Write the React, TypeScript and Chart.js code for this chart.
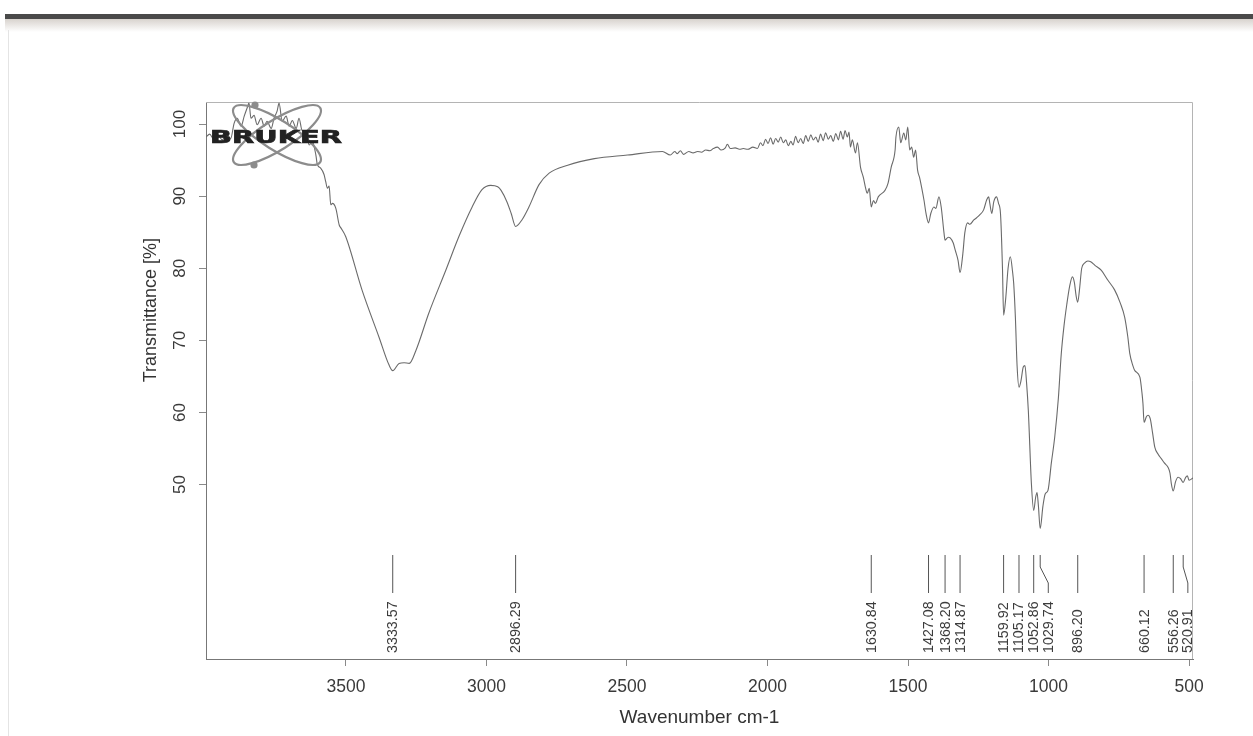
import { useEffect, useRef } from "react";
import { Chart, registerables } from "chart.js";

Chart.register(...registerables);

// IR spectrum (ATR), wavenumber in cm-1, descending order
const wavenumbers: number[] = [
  3998, 3985, 3970, 3955, 3940, 3925, 3910, 3898, 3887, 3873, 3862, 3852, 3845, 3838, 3827, 3816,
  3802, 3791, 3781, 3766, 3756, 3745, 3738, 3727, 3713, 3702, 3691, 3677, 3667, 3656, 3642, 3631,
  3620, 3607, 3602, 3590, 3578, 3572, 3566, 3560, 3554, 3548, 3536, 3524, 3518, 3501, 3443, 3382,
  3347, 3333.57, 3311, 3293, 3275, 3251, 3205, 3144, 3097, 3051, 3016, 2985, 2960, 2948, 2927, 2912,
  2896.29, 2874, 2849, 2813, 2777, 2711, 2616, 2498, 2374, 2346, 2330, 2321, 2310, 2299, 2280, 2265,
  2249, 2235, 2220, 2205, 2193, 2178, 2165, 2150, 2143, 2132, 2115, 2100, 2086, 2070, 2052, 2036,
  2025, 2016, 2007, 1998, 1989, 1980, 1971, 1962, 1953, 1944, 1935, 1926, 1917, 1909, 1900, 1891,
  1882, 1873, 1864, 1855, 1846, 1837, 1828, 1820, 1811, 1802, 1793, 1784, 1775, 1766, 1757, 1748,
  1740, 1731, 1724, 1716, 1710, 1705, 1698, 1687, 1680, 1669, 1659, 1652, 1645, 1638, 1630.84, 1623,
  1616, 1606, 1582, 1571, 1560, 1546, 1543, 1533, 1526, 1515, 1508, 1501, 1494, 1487, 1480, 1473,
  1466, 1459, 1452, 1443, 1436, 1427.08, 1419, 1408, 1401, 1390, 1382, 1372, 1368.2, 1357, 1350, 1339,
  1332, 1322, 1314.87, 1305, 1298, 1288, 1280, 1266, 1256, 1245, 1231, 1220, 1213, 1209, 1202, 1195,
  1185, 1178, 1171, 1164, 1159.92, 1152, 1144, 1136, 1128, 1124, 1118, 1112, 1105.17, 1098, 1090, 1084,
  1078, 1072, 1061, 1052.86, 1046, 1041, 1036, 1029.74, 1020, 1012, 1002, 990, 978, 965, 955, 945,
  935, 925, 915, 908, 902, 896.2, 890, 882, 872, 860, 850, 835, 812, 790, 765, 745,
  729, 718, 711, 700, 693, 675, 667, 664, 660.12, 652, 646, 638, 630, 622, 610, 599,
  588, 575, 568, 563, 556.26, 548, 539, 530, 520.91, 512, 506, 500, 486,
];

// Transmittance in %
const transmittance: number[] = [
  98.2, 98.6, 97.9, 98.5, 97.8, 98.7, 98.0, 100.1, 100.8, 99.7, 101.1, 102.2, 102.9, 100.8, 101.2, 99.9,
  100.8, 99.7, 100.4, 99.4, 100.8, 101.8, 102.9, 100.4, 101.1, 99.7, 100.5, 99.4, 100.8, 99.1, 99.0, 97.1,
  97.6, 95.7, 94.4, 93.9, 93.0, 92.0, 91.1, 91.4, 88.8, 89.0, 88.3, 86.0, 85.6, 84.4, 77.0, 70.4,
  66.6, 65.8, 66.8, 66.9, 66.8, 68.6, 73.8, 79.8, 84.5, 88.5, 90.9, 91.5, 91.3, 90.8, 89.2, 87.6,
  85.8, 86.7, 88.5, 91.6, 93.2, 94.3, 95.2, 95.7, 96.2, 95.7, 96.2, 95.9, 96.3, 95.8, 96.2, 96.0,
  96.2, 96.1, 96.4, 96.3, 96.6, 96.8, 96.4, 96.7, 97.2, 96.6, 96.7, 96.5, 96.6, 96.5, 96.8, 96.6,
  97.4, 97.0, 97.9, 97.3, 98.1, 97.2, 98.0, 97.5, 98.2, 97.4, 97.8, 97.0, 97.6, 97.1, 98.3, 97.4,
  98.0, 97.3, 98.4, 97.6, 98.5, 97.8, 98.2, 97.5, 98.6, 97.7, 98.8, 97.9, 98.4, 97.6, 98.7, 97.8,
  99.0, 97.9, 99.1, 98.2, 98.9, 96.8, 97.8, 96.0, 97.4, 94.0, 92.6, 91.3, 90.4, 91.1, 88.5, 89.4,
  89.0, 89.9, 90.8, 91.8, 94.0, 96.4, 98.2, 99.6, 97.4, 98.75, 97.8, 99.6, 96.4, 96.8, 95.4, 96.4,
  93.6, 92.6, 91.3, 89.4, 87.6, 86.3, 87.6, 88.5, 88.3, 89.9, 88.5, 84.9, 83.9, 84.3, 84.2, 83.5,
  82.5, 81.1, 79.4, 82.0, 84.9, 86.3, 86.1, 86.7, 87.0, 87.4, 88.1, 89.5, 89.9, 89.0, 87.6, 89.2,
  89.9, 89.0, 87.6, 80.1, 73.5, 76.0, 80.0, 81.6, 79.5, 77.9, 73.2, 66.5, 63.5, 64.4, 66.3, 66.5,
  64.0, 60.3, 50.1, 46.4, 48.2, 48.9, 47.0, 43.9, 47.0, 48.7, 49.2, 53.0, 56.6, 62.0, 68.0, 72.0,
  75.0, 77.5, 78.8, 78.0, 76.2, 75.3, 77.0, 80.0, 80.7, 81.0, 80.9, 80.4, 79.7, 78.4, 77.0, 75.2,
  73.2, 70.5, 68.2, 66.5, 65.8, 64.9, 62.5, 61.2, 58.6, 59.4, 59.6, 59.1, 57.2, 55.2, 54.2, 53.6,
  53.0, 52.4, 51.6, 50.1, 49.1, 50.4, 51.0, 50.8, 50.3, 51.0, 51.2, 50.6, 50.9,
];

// Picked peaks (cm-1)
const peakPositions: number[] = [
  3333.57, 2896.29, 1630.84, 1427.08, 1368.2, 1314.87, 1159.92, 1105.17, 1052.86, 1029.74, 896.2,
  660.12, 556.26, 520.91,
];
const peakLabels: string[] = peakPositions.map((p) => p.toFixed(2));

const xTickValues: number[] = [3500, 3000, 2500, 2000, 1500, 1000, 500];
const yTickValues: number[] = [50, 60, 70, 80, 90, 100];

const X_AXIS_MAX = 3998;
const X_AXIS_MIN = 486;
const Y_AXIS_MIN = 25.8;
const Y_AXIS_MAX = 103.06;

const SANS = '"Liberation Sans", Arial, Helvetica, sans-serif';

const opusPlugin = {
  id: "opusDecor",
  beforeDraw(chart: any) {
    const { ctx, width, height } = chart;
    ctx.save();
    ctx.fillStyle = "#ffffff";
    ctx.fillRect(0, 0, width, height);
    // paper edge at the top of the sheet
    ctx.fillStyle = "#4a4a4a";
    ctx.fillRect(5, 14, width - 5, 5);
    const g = ctx.createLinearGradient(0, 19, 0, 32);
    g.addColorStop(0, "#d8d3ce");
    g.addColorStop(1, "#ffffff");
    ctx.fillStyle = g;
    ctx.fillRect(5, 19, width - 5, 13);
    ctx.strokeStyle = "#e4e4e4";
    ctx.lineWidth = 1;
    ctx.beginPath();
    ctx.moveTo(8.5, 30);
    ctx.lineTo(8.5, height);
    ctx.stroke();
    ctx.restore();
  },
  beforeDatasetsDraw(chart: any) {
    const { ctx, chartArea } = chart;
    ctx.save();
    ctx.strokeStyle = "#b4b4b4";
    ctx.lineWidth = 1;
    ctx.beginPath();
    ctx.moveTo(chartArea.left, chartArea.top + 0.5);
    ctx.lineTo(chartArea.right - 0.5, chartArea.top + 0.5);
    ctx.lineTo(chartArea.right - 0.5, chartArea.bottom);
    ctx.stroke();
    ctx.restore();
  },
  afterDatasetsDraw(chart: any) {
    const { ctx, chartArea } = chart;
    const xs = chart.scales.x;
    const ys = chart.scales.y;
    ctx.save();

    // peak markers with their labels
    const bottom = chartArea.bottom;
    const lineTop = bottom - 104;
    const bendTop = bottom - 92;
    const bendBottom = bottom - 76;
    const lineBottom = bottom - 66;
    const minGap = 14.6;
    const order = peakPositions
      .map((p, i) => ({ p, label: peakLabels[i], px: xs.getPixelForValue(p) }))
      .sort((a, b) => a.px - b.px);
    let prev = -Infinity;
    ctx.strokeStyle = "#555555";
    ctx.lineWidth = 1;
    ctx.fillStyle = "#3c3c3c";
    ctx.font = `14.3px ${SANS}`;
    for (const item of order) {
      const tx = Math.max(item.px, prev + minGap);
      prev = tx;
      ctx.beginPath();
      ctx.moveTo(item.px, lineTop);
      if (Math.abs(tx - item.px) > 0.5) {
        ctx.lineTo(item.px, bendTop);
        ctx.lineTo(tx, bendBottom);
      }
      ctx.lineTo(tx, lineBottom);
      ctx.stroke();
      ctx.save();
      ctx.translate(tx, bottom - 6);
      ctx.rotate(-Math.PI / 2);
      ctx.textAlign = "left";
      ctx.textBaseline = "middle";
      ctx.fillText(item.label, 0, 0.5);
      ctx.restore();
    }

    // y axis title, centred on the labelled range
    ctx.save();
    ctx.fillStyle = "#333333";
    ctx.font = `18px ${SANS}`;
    ctx.translate(151, ys.getPixelForValue(74.2));
    ctx.rotate(-Math.PI / 2);
    ctx.textAlign = "center";
    ctx.textBaseline = "middle";
    ctx.fillText("Transmittance [%]", 0, 0);
    ctx.restore();

    // instrument logo
    const cx = 277;
    const cy = 135;
    ctx.strokeStyle = "#8c8c8c";
    ctx.lineWidth = 2.2;
    ctx.beginPath();
    ctx.ellipse(cx, cy, 51, 15, 0.56, 0, Math.PI * 2);
    ctx.stroke();
    ctx.beginPath();
    ctx.ellipse(cx, cy, 51, 15, -0.56, 0, Math.PI * 2);
    ctx.stroke();
    ctx.fillStyle = "#8c8c8c";
    ctx.beginPath();
    ctx.arc(255, 105, 3.6, 0, Math.PI * 2);
    ctx.fill();
    ctx.beginPath();
    ctx.arc(254, 165, 3.6, 0, Math.PI * 2);
    ctx.fill();

    ctx.font = `bold 18px "DejaVu Sans", ${SANS}`;
    const w = ctx.measureText("BRUKER").width;
    ctx.translate(210, 143);
    ctx.scale(132 / w, 1);
    ctx.fillStyle = "#222222";
    ctx.strokeStyle = "#222222";
    ctx.lineWidth = 0.7;
    ctx.textAlign = "left";
    ctx.textBaseline = "alphabetic";
    ctx.fillText("BRUKER", 0, 0);
    ctx.strokeText("BRUKER", 0, 0);
    ctx.restore();
  },
};

export default function App() {
  const canvasRef = useRef<HTMLCanvasElement | null>(null);

  useEffect(() => {
    const canvas = canvasRef.current;
    if (!canvas) return;
    const points = wavenumbers.map((w, i) => ({ x: w, y: transmittance[i] }));

    const chart = new Chart(canvas, {
      type: "line",
      data: {
        datasets: [
          {
            data: points,
            borderColor: "#6a6a6a",
            borderWidth: 1.1,
            pointRadius: 0,
            fill: false,
            cubicInterpolationMode: "monotone",
          },
        ],
      },
      options: {
        responsive: false,
        animation: false,
        layout: { padding: { top: 102, right: 60, left: 0, bottom: 0 } },
        plugins: {
          legend: { display: false },
          tooltip: { enabled: false },
        },
        scales: {
          x: {
            type: "linear",
            reverse: true,
            min: X_AXIS_MIN,
            max: X_AXIS_MAX,
            afterBuildTicks: (scale: any) => {
              scale.ticks = xTickValues.map((v) => ({ value: v }));
            },
            afterFit: (scale: any) => {
              scale.height = 77;
            },
            grid: {
              display: true,
              drawOnChartArea: false,
              drawTicks: true,
              tickLength: 7,
              color: "#8a8a8a",
              lineWidth: 1,
            },
            border: { display: true, color: "#777777", width: 1 },
            ticks: {
              autoSkip: false,
              maxRotation: 0,
              minRotation: 0,
              padding: 11,
              color: "#3a3a3a",
              font: { family: SANS, size: 17.5 },
              callback: (v: any) => String(v),
            },
            title: {
              display: true,
              text: "Wavenumber cm-1",
              color: "#333333",
              font: { family: SANS, size: 19 },
              padding: { top: 0, bottom: 7 },
            },
          },
          y: {
            type: "linear",
            min: Y_AXIS_MIN,
            max: Y_AXIS_MAX,
            afterBuildTicks: (scale: any) => {
              scale.ticks = yTickValues.map((v) => ({ value: v }));
            },
            afterFit: (scale: any) => {
              scale.width = 206;
            },
            grid: {
              display: true,
              drawOnChartArea: false,
              drawTicks: true,
              tickLength: 7,
              color: "#8a8a8a",
              lineWidth: 1,
            },
            border: { display: true, color: "#777777", width: 1 },
            ticks: {
              minRotation: 90,
              maxRotation: 90,
              crossAlign: "center",
              padding: 5,
              color: "#3a3a3a",
              font: { family: SANS, size: 17 },
              callback: (v: any) => String(v),
            },
          },
        },
      },
      plugins: [opusPlugin],
    } as any);

    return () => chart.destroy();
  }, []);

  return (
    <div style={{ position: "fixed", left: 0, top: 0, width: 1253, height: 736, background: "#ffffff" }}>
      <canvas ref={canvasRef} width={1253} height={736} style={{ display: "block" }} />
    </div>
  );
}
